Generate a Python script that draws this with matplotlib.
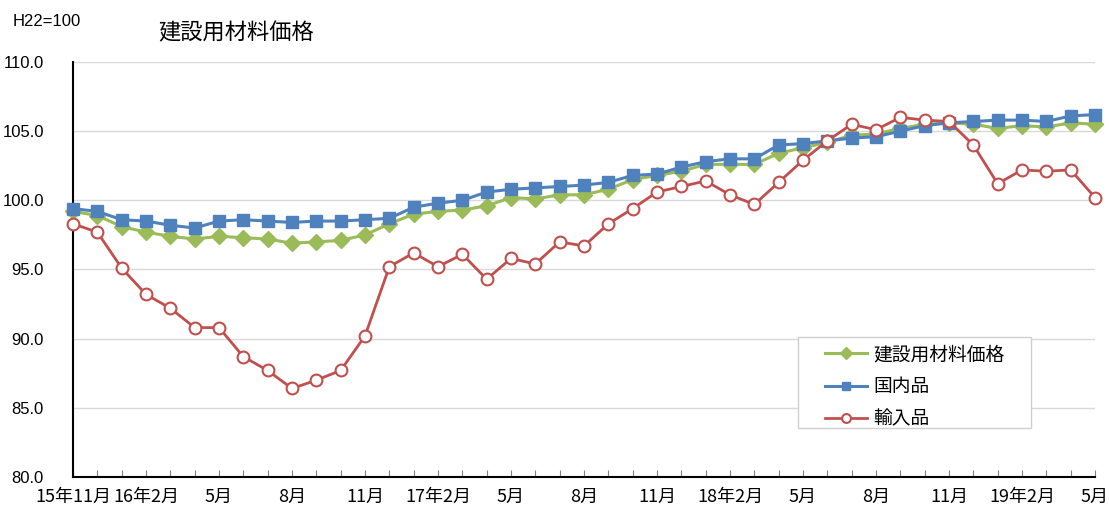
import matplotlib
matplotlib.use("Agg")
import matplotlib.pyplot as plt
from matplotlib.ticker import FixedLocator, MultipleLocator
from matplotlib.patches import Rectangle

plt.rcParams['font.family'] = ['Noto Sans CJK JP', 'DejaVu Sans']

tick_labels = ["15年11月", "16年2月", "5月", "8月", "11月", "17年2月", "5月", "8月",
               "11月", "18年2月", "5月", "8月", "11月", "19年2月", "5月"]

materials = [99.2, 98.9, 98.1, 97.7, 97.4, 97.2, 97.4, 97.3, 97.2, 96.9, 97.0, 97.1, 97.5, 98.3, 99.0, 99.2,
             99.3, 99.6, 100.2, 100.1, 100.4, 100.4, 100.8, 101.5, 101.8, 102.1, 102.6, 102.6, 102.6, 103.4, 103.8,
             104.2, 104.7, 104.8, 105.2, 105.5, 105.6, 105.5, 105.2, 105.4, 105.3, 105.6, 105.5]
domestic = [99.4, 99.2, 98.6, 98.5, 98.2, 98.0, 98.5, 98.6, 98.5, 98.4, 98.5, 98.5, 98.6, 98.7, 99.5, 99.8,
            100.0, 100.6, 100.8, 100.9, 101.0, 101.1, 101.3, 101.8, 101.9, 102.4, 102.8, 103.0, 103.0, 104.0, 104.1,
            104.3, 104.5, 104.6, 105.0, 105.4, 105.6, 105.7, 105.8, 105.8, 105.7, 106.1, 106.2]
imported = [98.3, 97.7, 95.1, 93.2, 92.2, 90.8, 90.8, 88.7, 87.7, 86.4, 87.0, 87.7, 90.2, 95.2, 96.2, 95.2,
            96.1, 94.3, 95.8, 95.4, 97.0, 96.7, 98.3, 99.4, 100.6, 101.0, 101.4, 100.4, 99.7, 101.3, 102.9,
            104.3, 105.5, 105.1, 106.0, 105.8, 105.7, 104.0, 101.2, 102.2, 102.1, 102.2, 100.2]
series_names = ["建設用材料価格", "国内品", "輸入品"]

x = list(range(len(materials)))

W, H = 1109, 511
AX_L, AX_R, AX_T, AX_B = 73, 1095, 62, 477

fig = plt.figure(figsize=(W / 100, H / 100), dpi=100)
ax = fig.add_axes([AX_L / W, 1 - AX_B / H, (AX_R - AX_L) / W, (AX_B - AX_T) / H])


def axfrac(px, py):
    return (px - AX_L) / (AX_R - AX_L), (AX_B - py) / (AX_B - AX_T)


green = "#9BBB59"
blue = "#4F81BD"
red = "#C0504D"

ax.plot(x, materials, color=green, lw=2.2, marker="D", ms=8.5, mfc=green, mec=green,
        label=series_names[0], clip_on=False, zorder=3)
ax.plot(x, domestic, color=blue, lw=2.2, marker="s", ms=8, mfc=blue, mec=blue,
        label=series_names[1], clip_on=False, zorder=4)
ax.plot(x, imported, color=red, lw=2.0, marker="o", ms=8.5, mfc="white", mec=red, mew=1.5,
        label=series_names[2], clip_on=False, zorder=5)

ax.set_xlim(0, len(x) - 1)
ax.set_ylim(80, 110)
ax.yaxis.set_major_locator(MultipleLocator(5))
ax.set_yticklabels([f"{v:.1f}" for v in ax.get_yticks()], fontfamily="Liberation Sans", fontsize=12)
ax.tick_params(axis="y", length=0, pad=21)
ax.grid(axis="y", color="#d9d9d9", lw=1)
ax.set_axisbelow(True)

ax.xaxis.set_major_locator(FixedLocator(x[::3]))
ax.set_xticklabels(tick_labels, fontsize=13)
ax.xaxis.set_minor_locator(FixedLocator(x))
ax.tick_params(axis="x", which="both", direction="in", length=5, width=0.8, color="#808080", pad=8)

for s in ["top", "right"]:
    ax.spines[s].set_visible(False)
ax.spines["left"].set_color("black")
ax.spines["left"].set_linewidth(1.5)
ax.spines["bottom"].set_color("black")
ax.spines["bottom"].set_linewidth(1.5)

fig.text(13 / W, 1 - 22 / H, "H22=100", fontfamily="Liberation Sans", fontsize=12, va="center", ha="left")
fig.text(236 / W, 1 - 33 / H, "建設用材料価格", fontsize=16, va="center", ha="center")

# legend frame
x0, y0 = axfrac(798, 428)
x1, y1 = axfrac(1031, 337)
ax.add_patch(Rectangle((x0, y0), x1 - x0, y1 - y0, transform=ax.transAxes,
                       facecolor="white", edgecolor="#d0d0d0", lw=1, zorder=6, clip_on=False))

leg = ax.legend(loc="upper left", bbox_to_anchor=axfrac(825, 344),
                fontsize=13.5, frameon=False,
                handlelength=2.25, handletextpad=0.32, labelspacing=0.6, borderpad=0,
                borderaxespad=0, markerscale=0.75)
leg.set_zorder(7)

fig.savefig("out.png", dpi=100)
